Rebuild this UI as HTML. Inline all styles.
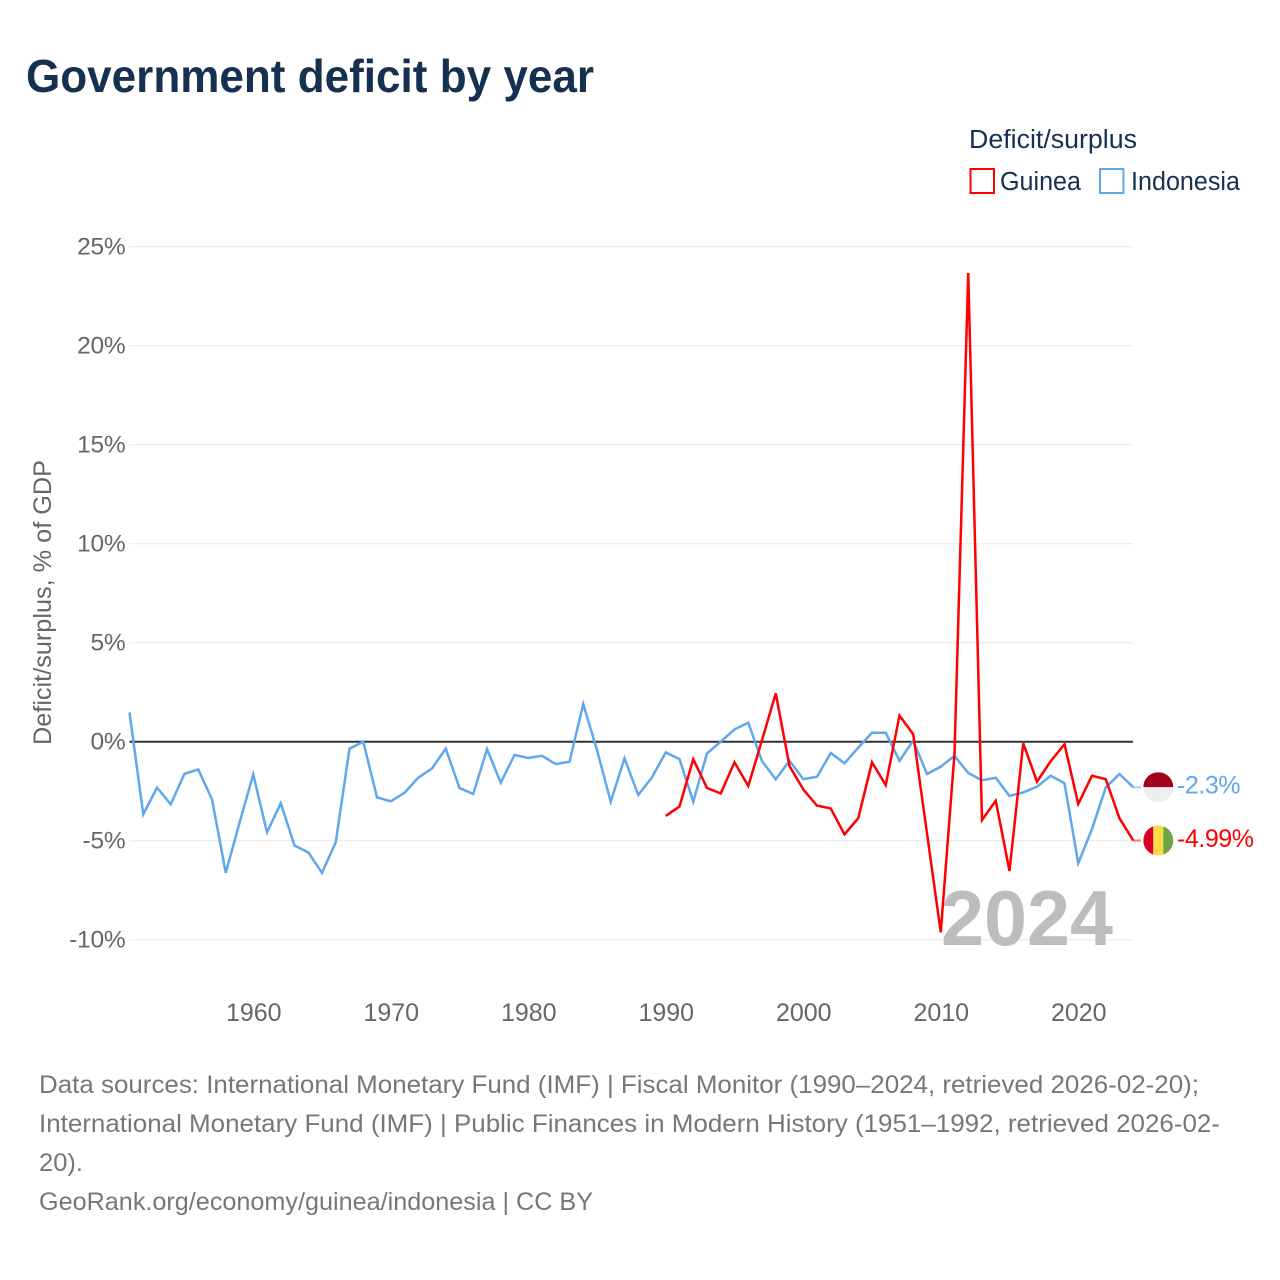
<!DOCTYPE html>
<html lang="en">
<head>
<meta charset="utf-8">
<title>Government deficit by year</title>
<style>
html,body{margin:0;padding:0;background:#fff;width:1280px;height:1280px;overflow:hidden}
svg{display:block}
text{font-family:"Liberation Sans",sans-serif}
</style>
</head>
<body>
<svg id="chart" xmlns="http://www.w3.org/2000/svg" width="1280" height="1280" viewBox="0 0 1280 1280">
  <rect x="0" y="0" width="1280" height="1280" fill="#fff"/>
  <text x="26" y="92" font-size="46" font-weight="700" fill="#16304f" textLength="568" lengthAdjust="spacingAndGlyphs">Government deficit by year</text>

  <text x="969" y="148" font-size="25.5" fill="#16304f" textLength="168" lengthAdjust="spacingAndGlyphs">Deficit/surplus</text>
  <rect x="970.5" y="169" width="23.5" height="24" fill="none" stroke="#ff0000" stroke-width="2"/>
  <text x="1000" y="190" font-size="25.5" fill="#16304f" textLength="81" lengthAdjust="spacingAndGlyphs">Guinea</text>
  <rect x="1100" y="169" width="23.5" height="24" fill="none" stroke="#60a8ec" stroke-width="2"/>
  <text x="1131" y="190" font-size="25.5" fill="#16304f" textLength="109" lengthAdjust="spacingAndGlyphs">Indonesia</text>

  <text transform="translate(51,745) rotate(-90)" x="0" y="0" font-size="25" fill="#666" textLength="285" lengthAdjust="spacingAndGlyphs">Deficit/surplus, % of GDP</text>

  <g id="grid"></g>
  <g id="y-ticks"></g>
  <g id="x-ticks"></g>

  <text x="941" y="945" font-size="78" font-weight="700" fill="#bdbdbd" textLength="172" lengthAdjust="spacingAndGlyphs">2024</text>

  <line id="zero-line" stroke="#333" stroke-width="2"/>
  <g id="series"></g>
  <g id="end-marks"></g>

  <g font-size="25" fill="#777">
    <text x="39" y="1093" textLength="1160" lengthAdjust="spacingAndGlyphs">Data sources: International Monetary Fund (IMF) | Fiscal Monitor (1990–2024, retrieved 2026-02-20);</text>
    <text x="39" y="1132" textLength="1181" lengthAdjust="spacingAndGlyphs">International Monetary Fund (IMF) | Public Finances in Modern History (1951–1992, retrieved 2026-02-</text>
    <text x="39" y="1171" textLength="44" lengthAdjust="spacingAndGlyphs">20).</text>
    <text x="39" y="1210" textLength="554" lengthAdjust="spacingAndGlyphs">GeoRank.org/economy/guinea/indonesia | CC BY</text>
  </g>
</svg>
<script>
const yTickValues = [25, 20, 15, 10, 5, 0, -5, -10];
const xTickYears = [1960, 1970, 1980, 1990, 2000, 2010, 2020];
const indonesiaStartYear = 1951;
const indonesiaValues = [1.48,-3.67,-2.32,-3.16,-1.62,-1.4,-2.91,-6.62,-4.1,-1.65,-4.58,-3.11,-5.24,-5.59,-6.62,-5.08,-0.35,0,-2.81,-3.01,-2.58,-1.82,-1.35,-0.35,-2.34,-2.64,-0.37,-2.07,-0.67,-0.82,-0.71,-1.13,-1.01,1.9,-0.42,-3.03,-0.84,-2.69,-1.8,-0.54,-0.88,-3.03,-0.59,0,0.62,0.96,-0.98,-1.9,-0.96,-1.89,-1.77,-0.57,-1.09,-0.3,0.45,0.45,-0.96,0.05,-1.63,-1.26,-0.72,-1.58,-1.95,-1.82,-2.74,-2.56,-2.27,-1.72,-2.1,-6.14,-4.41,-2.31,-1.63,-2.3];
const guineaStartYear = 1990;
const guineaValues = [-3.75,-3.27,-0.88,-2.34,-2.61,-1.04,-2.24,0.08,2.44,-1.23,-2.41,-3.23,-3.37,-4.68,-3.86,-1.04,-2.19,1.32,0.37,-4.63,-9.63,-0.6,23.67,-3.96,-2.98,-6.53,-0.08,-2.02,-0.98,-0.13,-3.15,-1.72,-1.89,-3.87,-4.99];

const NS = 'http://www.w3.org/2000/svg';
function make(tag, attrs, parent) {
  const el = document.createElementNS(NS, tag);
  for (const k in attrs) el.setAttribute(k, attrs[k]);
  parent.appendChild(el);
  return el;
}
const plotLeft = 129.5, plotRight = 1133;
function xScale(year) { return plotLeft + (year - 1951) * 13.75; }
function yScale(v) { return 741.7 - v * 19.8; }

const grid = document.getElementById('grid');
const yTicks = document.getElementById('y-ticks');
const xTicks = document.getElementById('x-ticks');
yTickValues.forEach(function (v) {
  if (v !== 0) {
    const g = make('line', {x1: plotLeft, x2: plotRight, y1: yScale(v), y2: yScale(v), stroke: '#e8e8e8', 'stroke-width': 1}, grid);
    
    
  }
  const t = make('text', {x: 125.5, y: yScale(v) + 8, 'text-anchor': 'end', 'font-size': 24.5, 'letter-spacing': -0.2, fill: '#666'}, yTicks);
  t.textContent = v + '%';
  
  
});
xTickYears.forEach(function (yr) {
  const t = make('text', {x: xScale(yr) + 0.5, y: 1021, 'text-anchor': 'middle', 'font-size': 25, fill: '#666'}, xTicks);
  t.textContent = yr;
  
  
});

const zero = document.getElementById('zero-line');
zero.setAttribute('x1', plotLeft);
zero.setAttribute('x2', plotRight);
zero.setAttribute('y1', yScale(0));
zero.setAttribute('y2', yScale(0));

const seriesG = document.getElementById('series');
const endG = document.getElementById('end-marks');
function pointsFor(start, values) {
  return values.map(function (v, i) { return xScale(start + i).toFixed(2) + ',' + yScale(v).toFixed(2); }).join(' ');
}
function drawLine(start, values, color) {
  return make('polyline', {points: pointsFor(start, values), fill: 'none', stroke: color, 'stroke-width': 2.5, 'stroke-linejoin': 'miter'}, seriesG);
}
const blueLine = drawLine(indonesiaStartYear, indonesiaValues, '#60a8ec');


const redLine = drawLine(guineaStartYear, guineaValues, '#ff0000');



function endLabel(values, color) {
  const last = values[values.length - 1];
  const y = yScale(last);
  const c = make('line', {x1: plotRight, x2: 1141, y1: y, y2: y, stroke: color, 'stroke-width': 2, opacity: 0.55}, endG);
  const t = make('text', {x: 1177, y: y + 6.5, 'font-size': 25, 'letter-spacing': -0.45, fill: color}, endG);
  t.textContent = last + '%';
  return {connector: c, label: t, y: y};
}
const idEnd = endLabel(indonesiaValues, '#60a8ec');




const gnEnd = endLabel(guineaValues, '#ff0000');





/* flags */
const cx = 1158.3, r = 15;
const defs = make('defs', {}, endG);
const clipA = make('clipPath', {id: 'clip-id'}, defs);
make('circle', {cx: cx, cy: idEnd.y, r: r}, clipA);
const clipB = make('clipPath', {id: 'clip-gn'}, defs);
make('circle', {cx: cx, cy: gnEnd.y, r: r}, clipB);

const idFlag = make('g', {'clip-path': 'url(#clip-id)'}, endG);


make('rect', {x: cx - r, y: idEnd.y - r, width: 2 * r, height: r, fill: '#a2001d'}, idFlag);
make('rect', {x: cx - r, y: idEnd.y, width: 2 * r, height: r, fill: '#eeeeee'}, idFlag);

const gnFlag = make('g', {'clip-path': 'url(#clip-gn)'}, endG);


make('rect', {x: cx - r, y: gnEnd.y - r, width: 10, height: 2 * r, fill: '#d80027'}, gnFlag);
make('rect', {x: cx - 5, y: gnEnd.y - r, width: 10, height: 2 * r, fill: '#ffda44'}, gnFlag);
make('rect', {x: cx + 5, y: gnEnd.y - r, width: 10, height: 2 * r, fill: '#6da544'}, gnFlag);
</script>
</body>
</html>
